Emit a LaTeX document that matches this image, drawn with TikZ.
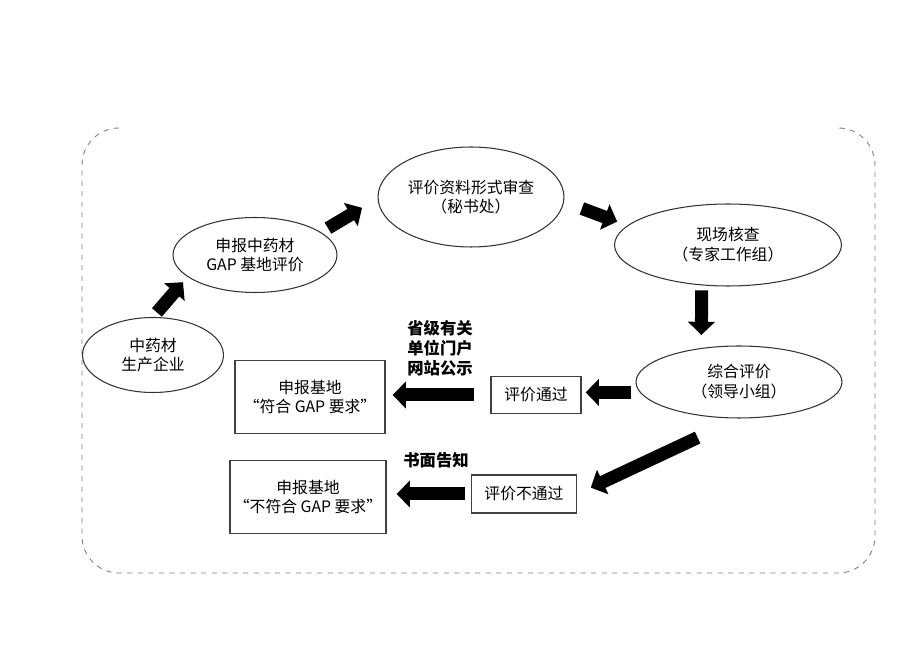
\documentclass[tikz,border=0pt]{standalone}
\usepackage{fontspec}
\setmainfont{Noto Sans CJK SC}
\usetikzlibrary{shapes.geometric,arrows.meta}

\begin{document}
\begin{tikzpicture}[x=0.02cm, y=-0.02cm,
        every node/.style={font=\fontsize{9pt}{11.3pt}\selectfont, align=center, inner sep=0pt},
        paso/.style={ellipse, draw=black!80, line width=0.6pt},
        caja/.style={rectangle, draw=black!75, line width=0.8pt},
        nota/.style={font=\fontsize{9.3pt}{11.3pt}\selectfont\bfseries},
        flecha/.style={draw=black, line width=7.4pt, -{Triangle[width=15pt,length=7.5pt]}}]
        \useasboundingbox (0,0) rectangle (920,651);
        %%%%%%%%%%%%%%%%%%%%%%%% Marco %%%%%%%%%%%%%%%%%%%%%%%%%%%%%%%%%%%
        \draw[gray, dashed, line width=0.5pt, rounded corners=0.74cm] (119,128) -- (82,128) -- (82,573) -- (875,573) -- (875,128) -- (838,128); %sin borde superior
        %%%%%%%%%%%%%%%%%%%%%%%% Elipses %%%%%%%%%%%%%%%%%%%%%%%%%%%%%%%%%%
        \node[paso, minimum width=2.82cm, minimum height=1.5cm] (empresa) at (153,355) {中药材\\生产企业};
        \node[paso, minimum width=3.28cm, minimum height=1.5cm] (solicitud) at (255,255) {申报中药材\\GAP 基地评价};
        \node[paso, minimum width=3.72cm, minimum height=2.0cm] (formal) at (471,197) {评价资料形式审查\\（秘书处）};
        \node[paso, minimum width=4.54cm, minimum height=1.64cm] (campo) at (728,245) {现场核查\\（专家工作组）};
        \node[paso, minimum width=4.12cm, minimum height=1.44cm] (global) at (739,382) {综合评价\\（领导小组）};
        %%%%%%%%%%%%%%%%%%%%%%%% Cajas %%%%%%%%%%%%%%%%%%%%%%%%%%%%%%%%%%%%
        \node[caja, minimum width=1.8cm, minimum height=0.74cm] (pasa) at (536,395) {评价通过};
        \node[caja, minimum width=3.0cm, minimum height=1.46cm] (cumple) at (310,397) {申报基地\\“符合 GAP 要求”};
        \node[caja, minimum width=2.1cm, minimum height=0.76cm] (nopasa) at (524,494) {评价不通过};
        \node[caja, minimum width=3.12cm, minimum height=1.46cm] (nocumple) at (308,497) {申报基地\\“不符合 GAP 要求”};
        %%%%%%%%%%%%%%%%%%%%%%%% Notas %%%%%%%%%%%%%%%%%%%%%%%%%%%%%%%%%%%%
        \node[nota] (publica) at (440,348) {省级有关\\单位门户\\网站公示};
        \node[nota] (aviso) at (436,460) {书面告知};
        %%%%%%%%%%%%%%%%%%%%%%%% Flechas %%%%%%%%%%%%%%%%%%%%%%%%%%%%%%%%%%
        \draw[flecha, shorten <=0.12cm, shorten >=0.14cm] (empresa.north) -- (solicitud.198);
        \draw[flecha, shorten <=0.16cm, shorten >=0.36cm] (solicitud.19.5) -- (formal.181);
        \draw[flecha, shorten <=0.38cm, shorten >=0.22cm] (formal.357.7) -- (campo.169.4);
        \draw[flecha, shorten <=0.1cm, shorten >=0.26cm] (campo.237) -- (global.138); %vertical
        \draw[flecha, shorten <=0.18cm, shorten >=0.08cm] (global.186) -- (global.186 -| pasa.east);
        \draw[flecha, shorten <=0.32cm, shorten >=0.14cm] (pasa.west) -- (pasa.west -| cumple.east);
        \draw[flecha, shorten <=0.9cm, shorten >=0.3cm] (global.269) -- (nopasa.east); %diagonal
        \draw[flecha, shorten <=0.12cm, shorten >=0.2cm] (nopasa.west) -- (nopasa.west -| nocumple.east);
      \end{tikzpicture}
\end{document}
